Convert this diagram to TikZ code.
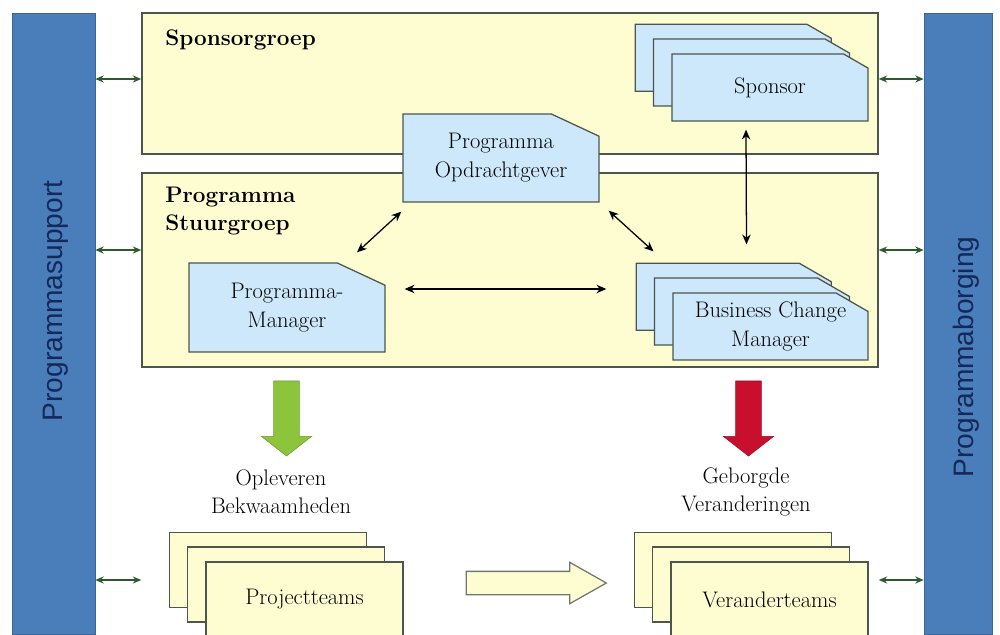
\documentclass[tikz,border=0pt]{standalone}
\usepackage{fontspec}
\usepackage{tikz}
\usetikzlibrary{arrows.meta, shapes.misc, shapes.arrows, shadows}
\newfontfamily\barfont{Liberation Sans}

\definecolor{barblue}{HTML}{4A7EBB}
\definecolor{barnavy}{HTML}{14285A}
\definecolor{groupyellow}{HTML}{FEFDD2}
\definecolor{roleblue}{HTML}{CDE8FA}
\definecolor{edgegray}{HTML}{4D564D}
\definecolor{linkgreen}{HTML}{2C5A2C}
\definecolor{arrgreen}{HTML}{8CC43C}
\definecolor{arrred}{HTML}{C8102E}

\begin{document}
\begin{tikzpicture}[x=0.025cm, y=-0.025cm,
	bar/.style={rectangle, fill=barblue, draw=barblue!80!black, inner sep=0pt},
	group/.style={rectangle, fill=groupyellow, draw=edgegray, line width=0.9pt, inner sep=0pt},
	role/.style={chamfered rectangle, chamfered rectangle corners=north east,
		chamfered rectangle angle=65, chamfered rectangle xsep=0.975cm,
		fill=roleblue, draw=edgegray, line width=0.9pt, align=center, inner ysep=0pt, inner xsep=-0.6cm,
		font=\fontsize{16}{20.5}\selectfont},
	team/.style={rectangle, fill=groupyellow, draw=edgegray, line width=0.9pt, inner sep=0pt,
		font=\fontsize{16}{20.5}\selectfont},
	stack/.style={double copy shadow={shadow xshift=-13.1pt, shadow yshift=10.6pt},
		chamfered rectangle angle=60, chamfered rectangle xsep=0.625cm},
	link/.style={{Stealth[length=6pt,width=5pt]}-{Stealth[length=6pt,width=5pt]}, linkgreen, line width=1.1pt},
	rel/.style={{Stealth[length=7pt,width=6pt]}-{Stealth[length=7pt,width=6pt]}, black, line width=0.9pt},
	title/.style={anchor=west, font=\bfseries\fontsize{16}{20}\selectfont, align=left, inner sep=0pt},
	caption/.style={align=center, font=\fontsize{16}{20}\selectfont, inner sep=0pt},
	downarr/.style={single arrow, rotate=-90, minimum height=1.875cm, inner xsep=0pt, inner ysep=0.3125cm,
		single arrow head extend=0.31cm, single arrow tip angle=104}]
	\useasboundingbox (0,0) rectangle (1000,634);
	\clip (0,0) rectangle (1000,634);

	% side bars
	\node [bar, minimum width=2.075cm, minimum height=15.525cm] (supbar) at (53.5,323.5) {};
	\node [bar, minimum width=1.7cm, minimum height=15.525cm] (borgbar) at (958,323.5) {};
	\node [rotate=90, text=barnavy, font=\barfont\fontsize{20}{24}\selectfont] (suplbl) at (56,301) {Programmasupport};
	\node [rotate=90, text=barnavy, font=\barfont\fontsize{20}{24}\selectfont] (borglbl) at (966,357) {Programmaborging};

	% groups
	\node [group, minimum width=18.4cm, minimum height=3.525cm] (spgroep) at (510,83.5) {};
	\node [group, minimum width=18.4cm, minimum height=4.85cm] (stgroep) at (510,270) {};
	\node [title] (sptitle) at (165,40) {Sponsorgroep};
	\node [title] (sttitle) at (165,211) {Programma\\Stuurgroep};

	% roles
	\node [role, minimum width=4.9cm, minimum height=2.2cm] (opdr) at (501,158) {Programma\\Opdrachtgever};
	\node [role, minimum width=4.9cm, minimum height=2.225cm] (mgr) at (287,307.5) {Programma-\\Manager};
	\node [role, stack, minimum width=4.9cm, minimum height=1.675cm] (sponsor) at (770,87.5) {Sponsor};
	\node [role, stack, minimum width=4.875cm, minimum height=1.675cm] (bcm) at (770.5,326.5) {Business Change\\Manager};

	% teams
	\node [team, stack, minimum width=4.925cm, minimum height=1.875cm] (projteam) at (304.5,599.5) {Projectteams};
	\node [team, stack, minimum width=4.925cm, minimum height=1.875cm] (verteam) at (769.5,599.5) {Veranderteams};

	% block arrows
	\node [downarr, fill=arrgreen, draw=arrgreen!80!black] (grarr) at (286.5,413.5) {};
	\node [downarr, fill=arrred, draw=arrred!80!black] (rdarr) at (748.5,413.5) {};
	\node [single arrow, fill=groupyellow, draw=edgegray!80, line width=0.9pt, minimum height=3.5cm,
		inner xsep=0pt, inner ysep=0.275cm, single arrow head extend=0.225cm, single arrow tip angle=59] (tmarr) at (526,583) {};

	\node [caption] (oplbl) at (281,492) {Opleveren\\Bekwaamheden};
	\node [caption] (gblbl) at (746,492) {Geborgde\\Veranderingen};

	% links to the side bars
	\draw [link] (supbar.east |- 0,79) -- (spgroep.west |- 0,79);
	\draw [link] (supbar.east |- 0,250) -- (stgroep.west |- 0,250);
	\draw [link] (supbar.east |- 0,580) -- (stgroep.west |- 0,580);
	\draw [link] (spgroep.east |- 0,79) -- (borgbar.west |- 0,79);
	\draw [link] (stgroep.east |- 0,250) -- (borgbar.west |- 0,250);
	\draw [link] (stgroep.east |- 0,580) -- (borgbar.west |- 0,580);

	% relations
	\draw [rel] ([shift={(-1,9)}]opdr.south west) -- ([shift={(70,-10)}]mgr.north);
	\draw [rel] ([shift={(9,8)}]opdr.south east) -- ([shift={(-117,-41)}]bcm.north);
	\draw [rel] ([shift={(19,-18.5)}]mgr.east) -- ([shift={(-66,-37.5)}]bcm.west);
	\draw [rel] ([shift={(-24,8)}]sponsor.south) -- ([shift={(-24,-48)}]bcm.north);
\end{tikzpicture}
\end{document}
